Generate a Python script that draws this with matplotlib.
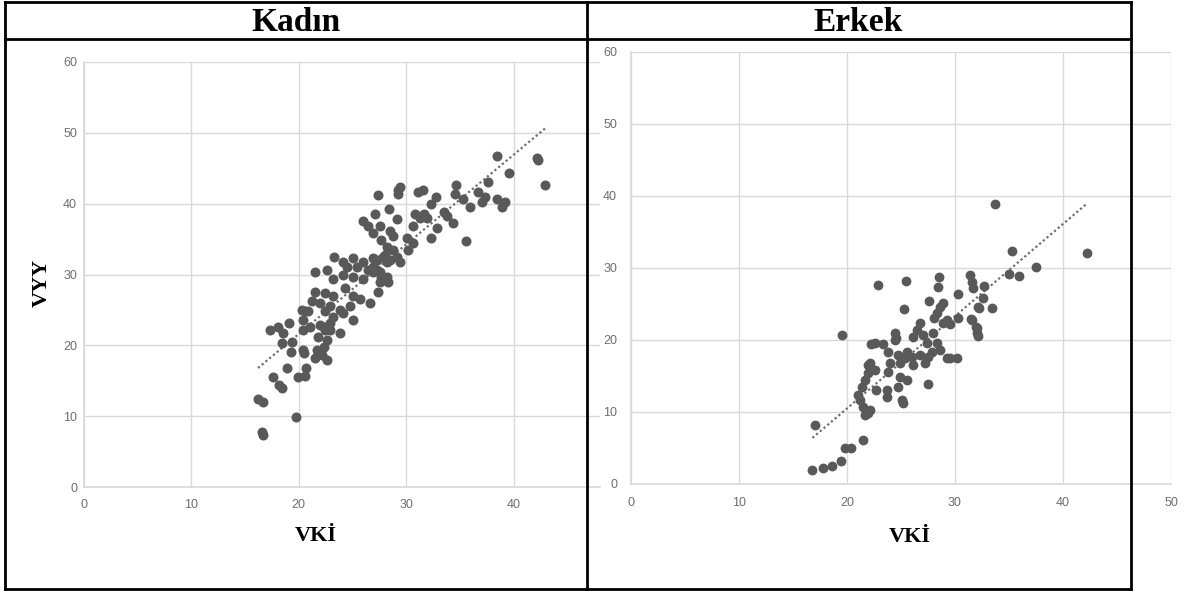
import matplotlib
matplotlib.use("Agg")
import matplotlib.pyplot as plt
from matplotlib import font_manager

# Kadın (women) - VKİ vs VYY
kadin_vki = [16.6, 16.7, 16.2, 16.7, 19.7, 17.6, 18.2, 18.4, 18.9, 19.9, 20.6, 20.7,
             17.3, 18.1, 18.5, 19.1, 18.4, 19.4, 19.3, 20.4, 20.4, 20.3, 20.9, 20.4,
             20.5, 22.0, 22.4, 22.9, 21.8, 22.6, 21.7, 22.3, 21.5, 22.2, 22.6, 27.4,
             29.2, 28.4, 27.1, 29.1, 26.0, 26.4, 27.6, 26.9, 28.5, 28.8, 27.7, 28.2,
             23.3, 24.1, 25.0, 26.0, 26.9, 27.8, 24.5, 25.4, 26.4, 27.3, 28.2, 21.5,
             22.6, 23.2, 24.1, 25.0, 26.0, 26.9, 27.7, 28.3, 27.4, 21.5, 22.4, 23.2,
             24.3, 25.0, 25.7, 26.6, 21.2, 22.0, 22.9, 23.8, 24.8, 20.6, 21.0, 22.4,
             23.2, 24.1, 25.0, 22.3, 22.9, 23.8, 38.5, 42.2, 42.3, 42.9, 39.6, 37.6,
             34.6, 35.3, 35.9, 36.7, 37.3, 37.1, 38.5, 39.2, 38.9, 34.5, 35.6, 32.8,
             32.3, 31.1, 31.6, 29.4, 29.2, 30.8, 31.7, 31.3, 31.9, 33.5, 33.8, 34.4,
             32.9, 32.3, 30.6, 30.1, 30.6, 30.2, 28.8, 28.0, 28.5, 29.1, 29.4, 27.3,
             26.9, 27.6, 28.2, 27.6]
kadin_vyy = [7.8, 7.4, 12.4, 12.0, 9.9, 15.6, 14.4, 14.0, 16.8, 15.6, 15.7, 16.8,
             22.1, 22.6, 21.8, 23.1, 20.4, 20.5, 19.1, 23.6, 22.2, 25.0, 24.8, 19.4,
             18.9, 22.9, 22.2, 23.2, 21.2, 20.8, 19.4, 19.8, 18.2, 18.7, 18.0, 41.2,
             42.0, 39.3, 38.6, 37.8, 37.5, 36.8, 36.8, 35.9, 36.1, 35.4, 34.9, 33.9,
             32.5, 31.8, 32.4, 31.8, 32.4, 32.5, 31.0, 31.1, 30.7, 30.7, 31.7, 30.3,
             30.6, 29.3, 30.0, 29.7, 29.3, 30.3, 29.7, 29.0, 27.6, 27.6, 27.4, 26.9,
             28.1, 26.9, 26.5, 26.0, 26.2, 26.0, 25.5, 25.0, 25.5, 24.8, 22.6, 24.8,
             24.0, 24.6, 23.6, 22.6, 22.2, 21.8, 46.7, 46.4, 46.1, 42.7, 44.4, 43.0,
             42.7, 40.6, 39.5, 41.6, 41.0, 40.3, 40.6, 40.2, 39.6, 41.3, 34.7, 41.0,
             39.9, 41.6, 41.9, 42.3, 41.4, 38.5, 38.5, 38.0, 38.0, 38.8, 38.2, 37.3,
             36.6, 35.2, 36.8, 35.1, 34.5, 33.5, 33.5, 32.8, 32.1, 32.5, 31.7, 32.1,
             31.1, 30.4, 29.7, 29.0]
kadin_trend_x = [16.2, 43.0]
kadin_trend_y = [16.8, 50.7]

# Erkek (men)
erkek_vki = [16.8, 17.8, 18.6, 19.4, 19.8, 20.4, 21.5, 17.0, 19.5, 22.9, 25.5, 25.3,
             28.5, 28.4, 27.6, 30.3, 31.4, 31.6, 31.7, 32.1, 30.3, 31.6, 31.9, 32.0,
             28.3, 28.6, 28.9, 28.1, 28.9, 29.3, 24.4, 24.4, 26.8, 26.5, 26.1, 27.0,
             28.0, 27.4, 28.3, 27.9, 28.6, 22.6, 23.3, 23.8, 24.7, 25.6, 26.0, 26.8,
             27.5, 21.9, 24.0, 24.9, 26.1, 27.2, 29.3, 30.2, 23.8, 25.4, 22.1, 22.6,
             21.9, 21.7, 21.4, 21.0, 21.2, 21.5, 21.9, 22.1, 21.7, 22.7, 23.7, 23.7,
             24.9, 25.6, 24.7, 25.1, 25.2, 27.5, 33.7, 35.3, 42.2, 37.5, 35.0, 35.9,
             32.7, 32.6, 32.2, 33.4, 29.5, 31.5, 32.0, 32.1, 29.5, 24.5, 22.2]
erkek_vyy = [1.9, 2.2, 2.5, 3.2, 5.0, 5.0, 6.1, 8.2, 20.7, 27.6, 28.2, 24.3,
             28.75, 27.4, 25.4, 26.4, 29.0, 28.1, 27.2, 24.6, 23.1, 22.8, 21.8, 21.0,
             23.7, 24.6, 25.1, 23.1, 22.4, 22.8, 21.0, 20.0, 22.4, 21.4, 20.4, 20.7,
             21.0, 19.6, 19.6, 18.3, 18.6, 19.6, 19.4, 18.3, 17.9, 18.3, 17.6, 17.9,
             17.6, 16.5, 16.8, 16.8, 16.5, 16.8, 17.5, 17.5, 15.6, 17.5, 16.8, 15.8,
             15.4, 14.4, 13.5, 12.4, 11.7, 10.7, 9.9, 10.3, 9.6, 13.1, 13.1, 12.1,
             14.9, 14.4, 13.5, 11.7, 11.3, 13.9, 38.9, 32.4, 32.1, 30.1, 29.2, 28.9,
             27.5, 25.8, 24.4, 24.4, 22.2, 22.9, 21.7, 20.6, 17.5, 20.3, 19.4]
erkek_trend_x = [16.8, 42.1]
erkek_trend_y = [6.4, 38.8]

headers = ["Kadın", "Erkek"]
x_label = "VKİ"
y_label = "VYY"

W, H = 1185, 591
POINT = "#595959"
GRID = "#d9d9d9"

available = {f.name for f in font_manager.fontManager.ttflist}
tick_font = "Liberation Sans Narrow" if "Liberation Sans Narrow" in available else "Liberation Sans"
tick_size = 11 if tick_font == "Liberation Sans Narrow" else 9

fig = plt.figure(figsize=(W / 100, H / 100), dpi=100)
fig.patch.set_facecolor("white")


def px_axes(x0, x1, y_top, y_bot):
    return fig.add_axes([x0 / W, 1 - y_bot / H, (x1 - x0) / W, (y_bot - y_top) / H])


def style(ax, xmax, xticks, ypad, xpad):
    ax.set_xlim(0, xmax)
    ax.set_ylim(0, 60)
    ax.set_xticks(xticks)
    ax.set_yticks(range(0, 61, 10))
    ax.grid(True, color=GRID, lw=1.0)
    ax.set_axisbelow(True)
    for s in ["top", "right"]:
        ax.spines[s].set_visible(False)
    for s in ["left", "bottom"]:
        ax.spines[s].set_color(GRID)
        ax.spines[s].set_linewidth(1.2)
    ax.tick_params(length=0, labelcolor="#6e6e6e", labelsize=tick_size)
    ax.tick_params(axis="y", pad=ypad)
    ax.tick_params(axis="x", pad=xpad)
    for lab in ax.get_xticklabels() + ax.get_yticklabels():
        lab.set_fontfamily(tick_font)


# left chart (Kadın); its right part is cut off by the table cell
ax1 = px_axes(84, 600, 62, 487)
style(ax1, (600 - 84) / 10.74, range(0, 41, 10), 5, 9)
ax1.scatter(kadin_vki, kadin_vyy, s=52, color=POINT, linewidths=0, zorder=3)
ax1.plot(kadin_trend_x, kadin_trend_y, color="#6e6e6e", lw=1.6,
         linestyle=(0, (1, 1.2)), zorder=2)

# right chart (Erkek)
ax2 = px_axes(631, 1171, 52, 484)
style(ax2, 50, range(0, 51, 10), 10, 9)
ax2.scatter(erkek_vki, erkek_vyy, s=50, color=POINT, linewidths=0, zorder=3)
ax2.plot(erkek_trend_x, erkek_trend_y, color="#6e6e6e", lw=1.6,
         linestyle=(0, (1, 1.2)), zorder=2)

# table borders and texts on top
ov = fig.add_axes([0, 0, 1, 1], zorder=10)
ov.set_xlim(0, W)
ov.set_ylim(H, 0)
ov.axis("off")
ov.patch.set_alpha(0)
lw = 2.0
ov.plot([5, 1131], [1.5, 1.5], color="black", lw=lw, solid_capstyle="projecting")
ov.plot([5, 1131], [38.5, 38.5], color="black", lw=lw, solid_capstyle="projecting")
ov.plot([5, 1131], [589, 589], color="black", lw=lw, solid_capstyle="projecting")
for xv in [5, 587, 1131]:
    ov.plot([xv, xv], [1.5, 589], color="black", lw=lw, solid_capstyle="projecting")

serif = "Liberation Serif"
ov.text(296, 31, headers[0], ha="center", va="baseline", fontsize=24,
        fontweight="bold", family=serif)
ov.text(858, 31, headers[1], ha="center", va="baseline", fontsize=24,
        fontweight="bold", family=serif)
ov.text(42, 283, y_label, ha="center", va="center", rotation=90, fontsize=16,
        fontweight="bold", family=serif)
ov.text(316, 536, x_label, ha="center", va="center", fontsize=16,
        fontweight="bold", family=serif)
ov.text(910, 537, x_label, ha="center", va="center", fontsize=16,
        fontweight="bold", family=serif)

fig.savefig("out.png", dpi=100, facecolor="white")
